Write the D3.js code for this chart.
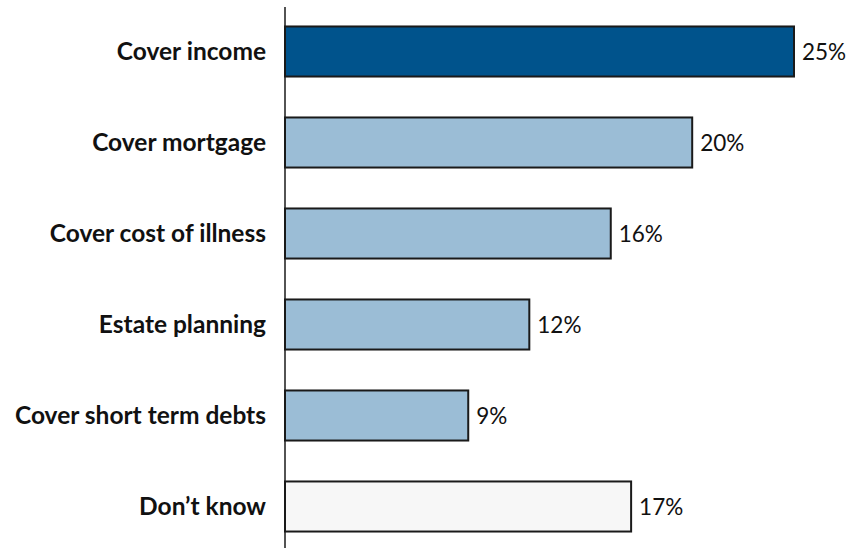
<!DOCTYPE html>
<html>
<head>
<meta charset="utf-8">
<script src="https://cdn.jsdelivr.net/npm/d3@7"></script>
<style>
  html, body { margin: 0; padding: 0; background: #fff; }
  svg { display: block; }
</style>
</head>
<body>
<svg id="chart" width="849" height="548"></svg>
<script>
// Reasons given, with share of respondents (%)
const categories = [
  "Cover income",
  "Cover mortgage",
  "Cover cost of illness",
  "Estate planning",
  "Cover short term debts",
  "Don\u2019t know"
];
const values = [25, 20, 16, 12, 9, 17];
const fills = ["#00538c", "#9bbdd6", "#9bbdd6", "#9bbdd6", "#9bbdd6", "#f7f7f7"];

const svg = d3.select("#chart");
const margin = { left: 285, right: 55, top: 6, bottom: 0 };
const W = 849, H = 548;

const x = d3.scaleLinear()
  .domain([0, 25])
  .range([margin.left, 794]);

const y = d3.scaleBand()
  .domain(categories)
  .range([margin.top, margin.top + 91 * 6])
  .paddingInner(0.45)
  .paddingOuter(0.225);

const data = categories.map((c, i) => ({ cat: c, val: values[i], fill: fills[i] }));

// Bars
svg.append("g").selectAll("rect")
  .data(data)
  .join("rect")
  .attr("x", x(0))
  .attr("y", d => y(d.cat))
  .attr("width", d => x(d.val) - x(0))
  .attr("height", y.bandwidth())
  .attr("fill", d => d.fill)
  .attr("stroke", "#1a1a1a")
  .attr("stroke-width", 2);

// Value labels
svg.append("g").selectAll("text")
  .data(data)
  .join("text")
  .attr("x", d => x(d.val) + 8)
  .attr("y", d => y(d.cat) + y.bandwidth() / 2)
  .attr("dy", "0.36em")
  .attr("font-family", "Lato, sans-serif")
  .attr("font-size", 22.5)
  .attr("fill", "#111")
  .text(d => d.val + "%");

// Category axis
const axis = svg.append("g")
  .attr("transform", `translate(${x(0)},0)`)
  .call(d3.axisLeft(y).tickSize(0).tickPadding(19));
axis.select(".domain").remove();
axis.selectAll("text")
  .attr("font-family", "Lato, sans-serif")
  .attr("font-weight", "bold")
  .attr("font-size", 24.5)
  .attr("dy", "0.36em")
  .attr("fill", "#111");

svg.append("line")
  .attr("x1", x(0)).attr("x2", x(0))
  .attr("y1", 7).attr("y2", H)
  .attr("stroke", "#1a1a1a")
  .attr("stroke-width", 1.5);
</script>
</body>
</html>
